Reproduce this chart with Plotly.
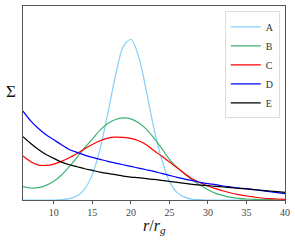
import plotly.graph_objects as go

r = list(range(6, 41))

series_names = ["A", "B", "C", "D", "E"]
colors = ["#87CEFA", "#3CB371", "#FF0000", "#0000FF", "#000000"]

A = [0, 0, 0, 0, 0, 1, 4, 12, 33, 77, 153, 259, 374, 461, 483, 432, 329, 214, 122, 56,
     22, 8, 2, 1, 0, 0, 0, 0, 0, 0, 0, 0, 0, 0, 0]
B = [40, 36, 37, 44, 56, 75, 100, 128, 157, 183, 210, 230, 242, 247, 244, 232, 213, 186, 155, 122,
     98, 78, 60, 44, 31, 20, 13, 8, 5, 3, 2, 1, 1, 0, 0]
C = [132, 115, 105, 104, 108, 116, 127, 140, 154, 167, 178, 186, 189, 188, 185, 178, 166, 148, 132, 114,
     97, 79, 63, 52, 42, 34, 27, 21, 16, 12, 9, 6, 4, 3, 2]
D = [267, 238, 215, 196, 181, 166, 152, 143, 135, 128, 122, 116, 111, 106, 101, 96, 91, 86, 80, 74,
     68, 63, 58, 53, 49, 46, 42, 39, 36, 34, 31, 28, 25, 22, 19]
E = [190, 170, 152, 137, 125, 114, 106, 100, 94, 89, 84, 80, 76, 72, 69, 67, 64, 62, 59, 56,
     53, 50, 47, 45, 43, 41, 39, 37, 35, 33, 31, 29, 27, 25, 23]

x_ticks = [10, 15, 20, 25, 30, 35, 40]
x_range = [6, 40]
y_range = [0, 583]

font_family = "Liberation Serif, DejaVu Serif, serif"

fig = go.Figure()
for name, col, vals in zip(series_names, colors, [A, B, C, D, E]):
    fig.add_trace(go.Scatter(x=r, y=vals, mode="lines", name=name,
                             line=dict(color=col, width=1.2, shape="spline", smoothing=0.8)))

fig.update_layout(
    width=295, height=240,
    margin=dict(l=23, r=10, t=6, b=40),
    paper_bgcolor="white", plot_bgcolor="white",
    font=dict(family=font_family, size=10, color="#333"),
    showlegend=True,
    legend=dict(x=0.98, y=0.972, xanchor="right", yanchor="top",
                bgcolor="white", bordercolor="#dddddd", borderwidth=1,
                font=dict(size=10, family=font_family, color="#333"),
                itemwidth=30, tracegroupgap=0),
    xaxis=dict(range=x_range, tickvals=x_ticks, ticktext=[str(t) for t in x_ticks],
               showgrid=False, zeroline=False, showline=True, linecolor="#555", linewidth=1,
               mirror=True, ticks="outside", ticklen=3, tickcolor="#555",
               tickfont=dict(size=10, family=font_family, color="#444")),
    yaxis=dict(range=y_range, showticklabels=False, showgrid=False, zeroline=False,
               showline=True, linecolor="#555", linewidth=1, mirror=True, ticks=""),
    annotations=[
        dict(text="Σ", xref="paper", yref="paper", x=-0.045, y=0.557,
             xanchor="center", yanchor="middle", showarrow=False,
             font=dict(size=17, family=font_family, color="#111")),
        dict(text="<i>r</i>/<i>r</i><sub><i>g</i></sub>", xref="paper", yref="paper",
             x=0.503, y=-0.135, xanchor="center", yanchor="middle", showarrow=False,
             font=dict(size=16, family=font_family, color="#111")),
    ],
)

fig.write_html("out.html", config={"displayModeBar": False},
               post_script="document.body.style.margin='0';document.body.style.padding='0';")
